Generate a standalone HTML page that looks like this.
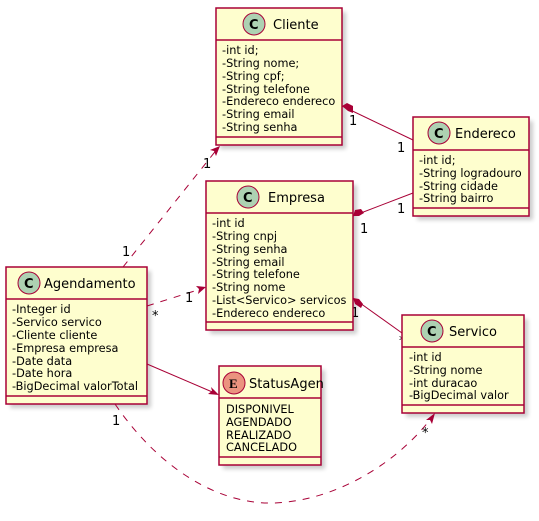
<!DOCTYPE html>
<html><head><meta charset="utf-8"><style>
html,body{margin:0;padding:0;background:#fff;}
svg{display:block;}
text{font-family:"DejaVu Sans","Liberation Sans",sans-serif;fill:#000;}
.t{font-size:13px;}
.a{font-size:11.3px;}
.l{font-size:13px;}
.box{fill:#FEFECE;stroke:#A80036;stroke-width:1.5;}
.sh{fill:#000;opacity:0.2;}
.sep{stroke:#A80036;stroke-width:1.5;}
.ln{stroke:#A80036;stroke-width:1;fill:none;}
.d{stroke-dasharray:7,7;}
.ci{fill:#ADD1B2;stroke:#A80036;stroke-width:1;}
.ei{fill:#EB937F;stroke:#A80036;stroke-width:1;}
.ic{font-size:13px;font-weight:bold;}
</style></head><body>
<svg width="539" height="521" viewBox="0 0 539 521" xmlns="http://www.w3.org/2000/svg">
<defs><filter id="f" x="-10%" y="-10%" width="130%" height="130%"><feGaussianBlur stdDeviation="2"/></filter></defs>
<g class="sh" filter="url(#f)">
<rect x="220" y="12" width="126" height="137"/>
<rect x="417" y="121" width="116" height="99"/>
<rect x="210" y="185" width="147" height="149"/>
<rect x="10" y="271" width="141" height="137"/>
<rect x="223" y="370" width="102" height="99"/>
<rect x="406" y="319" width="122" height="98"/>
</g>
<path class="ln d" d="M123,267 L218,148"/>
<path d="M220,146 L210,150 L214,151 L216,156 Z" fill="#A80036"/>
<path class="ln d" d="M147,306 L204,288"/>
<path d="M206,287 L196,286 L199,289 L198,294 Z" fill="#A80036"/>
<path class="ln" d="M147,364 L217,394"/>
<path d="M219,395 L211,387 L212,391 L208,394 Z" fill="#A80036"/>
<path class="ln d" d="M115,404 C160,470 220,505 275,503 C340,500 400,460 433,416"/>
<path d="M435,413 L426,420 L430,420 L432,424 Z" fill="#A80036"/>
<path class="ln" d="M342,106 L413,140"/>
<path d="M342,106 L347,103 L353,106 L353,113 L348,111 Z" fill="#A80036"/>
<path class="ln" d="M353,216 L413,193"/>
<path d="M353,216 L355,210 L361,209 L364,213 L359,216 Z" fill="#A80036"/>
<path class="ln" d="M353,298 L402,333"/>
<path d="M353,298 L359,299 L363,304 L361,308 L355,304 Z" fill="#A80036"/>
<text class="l" x="122" y="256">1</text>
<text class="l" x="203" y="168">1</text>
<text class="l" x="152" y="320">*</text>
<text class="l" x="185" y="302">1</text>
<text class="l" x="112" y="425">1</text>
<text class="l" x="422" y="437">*</text>
<text class="l" x="349" y="125">1</text>
<text class="l" x="397" y="152">1</text>
<text class="l" x="360" y="233">1</text>
<text class="l" x="397" y="213">1</text>
<text class="l" x="351" y="317">1</text>
<text class="l" x="399" y="345">*</text>
<rect class="box" x="216" y="8" width="126" height="137"/>
<circle class="ci" cx="254" cy="24" r="11"/><text class="ic" x="249" y="29">C</text>
<text class="t" x="273" y="29">Cliente</text>
<line class="sep" x1="216" y1="40" x2="342" y2="40"/>
<text class="a" x="222" y="54">-int id;</text>
<text class="a" x="222" y="67">-String nome;</text>
<text class="a" x="222" y="80">-String cpf;</text>
<text class="a" x="222" y="93">-String telefone</text>
<text class="a" x="222" y="105">-Endereco endereco</text>
<text class="a" x="222" y="118">-String email</text>
<text class="a" x="222" y="131">-String senha</text>
<line class="sep" x1="216" y1="137" x2="342" y2="137"/>
<rect class="box" x="413" y="117" width="116" height="99"/>
<circle class="ci" cx="439" cy="133" r="11"/><text class="ic" x="434" y="138">C</text>
<text class="t" x="455" y="138">Endereco</text>
<line class="sep" x1="413" y1="150" x2="529" y2="150"/>
<text class="a" x="419" y="164">-int id;</text>
<text class="a" x="419" y="177">-String logradouro</text>
<text class="a" x="419" y="190">-String cidade</text>
<text class="a" x="419" y="202">-String bairro</text>
<line class="sep" x1="413" y1="208" x2="529" y2="208"/>
<rect class="box" x="206" y="181" width="147" height="149"/>
<circle class="ci" cx="248" cy="197" r="11"/><text class="ic" x="243" y="202">C</text>
<text class="t" x="268" y="202">Empresa</text>
<line class="sep" x1="206" y1="213" x2="353" y2="213"/>
<text class="a" x="212" y="227">-int id</text>
<text class="a" x="212" y="240">-String cnpj</text>
<text class="a" x="212" y="253">-String senha</text>
<text class="a" x="212" y="266">-String email</text>
<text class="a" x="212" y="278">-String telefone</text>
<text class="a" x="212" y="291">-String nome</text>
<text class="a" x="212" y="304">-List&lt;Servico&gt; servicos</text>
<text class="a" x="212" y="317">-Endereco endereco</text>
<line class="sep" x1="206" y1="322" x2="353" y2="322"/>
<rect class="box" x="6" y="267" width="141" height="137"/>
<circle class="ci" cx="29" cy="283" r="11"/><text class="ic" x="24" y="288">C</text>
<text class="t" x="44" y="288">Agendamento</text>
<line class="sep" x1="6" y1="299" x2="147" y2="299"/>
<text class="a" x="12" y="313">-Integer id</text>
<text class="a" x="12" y="326">-Servico servico</text>
<text class="a" x="12" y="339">-Cliente cliente</text>
<text class="a" x="12" y="352">-Empresa empresa</text>
<text class="a" x="12" y="365">-Date data</text>
<text class="a" x="12" y="377">-Date hora</text>
<text class="a" x="12" y="390">-BigDecimal valorTotal</text>
<line class="sep" x1="6" y1="396" x2="147" y2="396"/>
<rect class="box" x="219" y="366" width="102" height="99"/>
<circle class="ei" cx="234" cy="383" r="11"/><text class="ic" x="229" y="388" style="font-family:'Liberation Serif',serif">E</text>
<text class="t" x="249" y="388">StatusAgen</text>
<line class="sep" x1="219" y1="398" x2="321" y2="398"/>
<text class="a" x="226" y="413">DISPONIVEL</text>
<text class="a" x="226" y="426">AGENDADO</text>
<text class="a" x="226" y="439">REALIZADO</text>
<text class="a" x="226" y="451">CANCELADO</text>
<line class="sep" x1="219" y1="457" x2="321" y2="457"/>
<rect class="box" x="402" y="315" width="122" height="98"/>
<circle class="ci" cx="432" cy="331" r="11"/><text class="ic" x="427" y="336">C</text>
<text class="t" x="449" y="336">Servico</text>
<line class="sep" x1="402" y1="347" x2="524" y2="347"/>
<text class="a" x="409" y="361">-int id</text>
<text class="a" x="409" y="374">-String nome</text>
<text class="a" x="409" y="387">-int duracao</text>
<text class="a" x="409" y="399">-BigDecimal valor</text>
<line class="sep" x1="402" y1="405" x2="524" y2="405"/>
</svg>
</body></html>
